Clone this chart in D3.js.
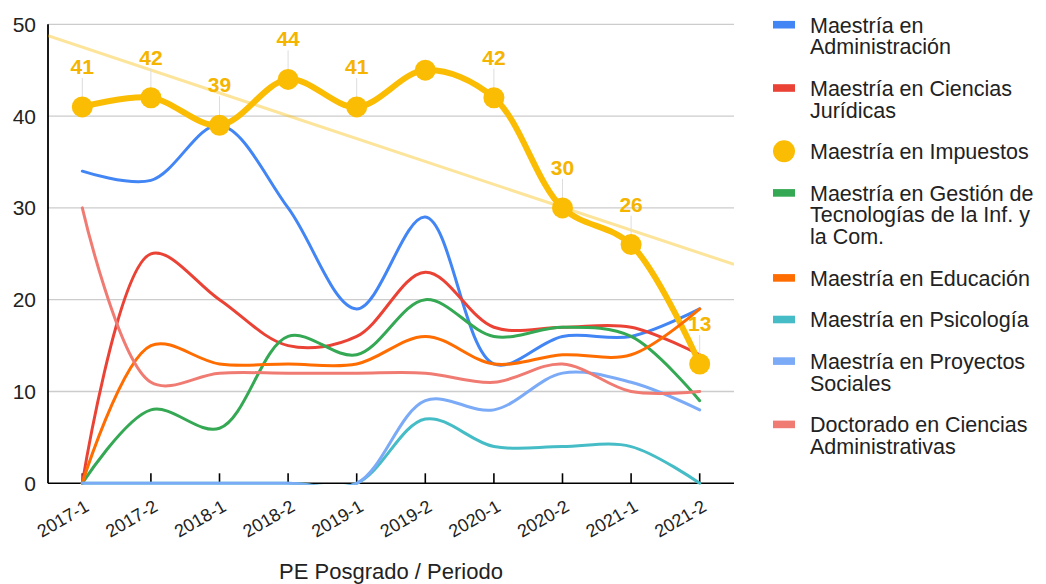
<!DOCTYPE html>
<html>
<head>
<meta charset="utf-8">
<script src="https://cdn.jsdelivr.net/npm/d3@7"></script>
<style>
  html, body { margin: 0; padding: 0; background: #fff; }
  svg { display: block; font-family: "Liberation Sans", Arial, sans-serif; }
</style>
</head>
<body>
<svg id="chart" width="1046" height="584"></svg>
<script>
// ---------------- DATA ----------------
const categories = ["2017-1","2017-2","2018-1","2018-2","2019-1","2019-2","2020-1","2020-2","2021-1","2021-2"];
const administracion    = [34, 33, 39, 30, 19, 29, 13, 16, 16, 19];
const cienciasJuridicas = [ 0, 25, 20, 15, 16, 23, 17, 17, 17, 14];
const impuestos         = [41, 42, 39, 44, 41, 45, 42, 30, 26, 13];
const gestionTIC        = [ 0,  8,  6, 16, 14, 20, 16, 17, 16,  9];
const educacion         = [ 0, 15, 13, 13, 13, 16, 13, 14, 14, 19];
const psicologia        = [ 0,  0,  0,  0,  0,  7,  4,  4,  4,  0];
const proyectosSociales = [ 0,  0,  0,  0,  0,  9,  8, 12, 11,  8];
const doctorado         = [30, 11, 12, 12, 12, 12, 11, 13, 10, 10];
const impuestosLabelShown = [true, true, true, true, true, false, true, true, true, true];
const yTicks = [0, 10, 20, 30, 40, 50];
const xAxisTitle = "PE Posgrado / Periodo";

const seriesNames = [
  "Maestría en Administración",
  "Maestría en Ciencias Jurídicas",
  "Maestría en Impuestos",
  "Maestría en Gestión de Tecnologías de la Inf. y la Com.",
  "Maestría en Educación",
  "Maestría en Psicología",
  "Maestría en Proyectos Sociales",
  "Doctorado en Ciencias Administrativas"
];
const legendLines = [
  ["Maestría en", "Administración"],
  ["Maestría en Ciencias", "Jurídicas"],
  ["Maestría en Impuestos"],
  ["Maestría en Gestión de", "Tecnologías de la Inf. y", "la Com."],
  ["Maestría en Educación"],
  ["Maestría en Psicología"],
  ["Maestría en Proyectos", "Sociales"],
  ["Doctorado en Ciencias", "Administrativas"]
];
const seriesValues = [administracion, cienciasJuridicas, impuestos, gestionTIC, educacion, psicologia, proyectosSociales, doctorado];
const colors = ["#4285f4", "#ea4335", "#fbbc04", "#34a853", "#ff6d01", "#46bdc6", "#7baaf7", "#f07b72"];
const highlighted = 2; // Impuestos

// ---------------- LAYOUT ----------------
const svg = d3.select("#chart");
const plot = { left: 48, right: 734, top: 24.3, bottom: 483.3 };
const textColor = "#222";

const x = d3.scalePoint().domain(categories).range([plot.left, plot.right]).padding(0.5);
const y = d3.scaleLinear().domain([0, 50]).range([plot.bottom, plot.top]);

// clip
svg.append("defs").append("clipPath").attr("id", "clip")
  .append("rect")
  .attr("x", plot.left).attr("y", plot.top - 2)
  .attr("width", plot.right - plot.left).attr("height", plot.bottom - plot.top + 3.5);

// gridlines
svg.append("g").selectAll("line").data(yTicks.filter(d => d > 0)).join("line")
  .attr("x1", plot.left).attr("x2", plot.right)
  .attr("y1", d => y(d)).attr("y2", d => y(d))
  .attr("stroke", "#cccccc").attr("stroke-width", 1.3);

// y tick labels
svg.append("g").selectAll("text").data(yTicks).join("text")
  .attr("x", 36).attr("y", d => y(d) + 7.5)
  .attr("text-anchor", "end")
  .attr("font-size", 21).attr("fill", textColor)
  .text(d => d);

// x axis baseline + ticks
const xAxisG = svg.append("g");
xAxisG.append("line")
  .attr("x1", plot.left).attr("x2", plot.right)
  .attr("y1", plot.bottom).attr("y2", plot.bottom)
  .attr("stroke", "#000").attr("stroke-width", 1.6);
xAxisG.selectAll("line.tick").data(categories).join("line")
  .attr("class", "tick")
  .attr("x1", d => x(d)).attr("x2", d => x(d))
  .attr("y1", plot.bottom).attr("y2", plot.bottom - 10)
  .attr("stroke", "#000").attr("stroke-width", 1.6);
// y axis line
svg.append("line")
  .attr("x1", plot.left).attr("x2", plot.left)
  .attr("y1", plot.top).attr("y2", plot.bottom)
  .attr("stroke", "#000").attr("stroke-width", 1.8);

// x tick labels
svg.append("g").selectAll("text").data(categories).join("text")
  .attr("transform", d => `translate(${x(d) + 8},${510}) rotate(-30)`)
  .attr("text-anchor", "end")
  .attr("font-size", 18).attr("fill", textColor)
  .text(d => d);

// x axis title
svg.append("text")
  .attr("x", (plot.left + plot.right) / 2).attr("y", 579)
  .attr("text-anchor", "middle")
  .attr("font-size", 22).attr("fill", textColor)
  .text(xAxisTitle);

// ---------------- TRENDLINE (linear fit of Impuestos) ----------------
const idx = impuestos.map((_, i) => i);
const mx = d3.mean(idx), my = d3.mean(impuestos);
const slope = d3.sum(idx, i => (i - mx) * (impuestos[i] - my)) / d3.sum(idx, i => (i - mx) ** 2);
const intercept = my - slope * mx;
const step = x.step();
const x0 = x(categories[0]);
const trendXs = [plot.left, plot.right];
const lines = svg.append("g").attr("clip-path", "url(#clip)");
lines.append("line")
  .attr("x1", trendXs[0]).attr("x2", trendXs[1])
  .attr("y1", y(intercept + slope * (trendXs[0] - x0) / step))
  .attr("y2", y(intercept + slope * (trendXs[1] - x0) / step))
  .attr("stroke", colors[highlighted]).attr("stroke-opacity", 0.4)
  .attr("stroke-width", 3);

// ---------------- SERIES ----------------
const lineGen = d3.line()
  .x((d, i) => x(categories[i]))
  .y(d => y(d))
  .curve(d3.curveCatmullRom.alpha(0.5));

seriesValues.forEach((vals, s) => {
  lines.append("path")
    .attr("d", lineGen(vals))
    .attr("fill", "none")
    .attr("stroke", colors[s])
    .attr("stroke-width", s === highlighted ? 6 : 3)
    .attr("stroke-linejoin", "round")
    .attr("stroke-linecap", "round");
  if (s === highlighted) {
    // leader lines
    svg.append("g").selectAll("line").data(vals.map((v, i) => ({ v, i })).filter(d => impuestosLabelShown[d.i])).join("line")
      .attr("x1", d => x(categories[d.i])).attr("x2", d => x(categories[d.i]))
      .attr("y1", d => y(d.v) - 29).attr("y2", d => y(d.v))
      .attr("stroke", "#dddddd").attr("stroke-width", 1);
    svg.append("g").selectAll("circle").data(vals).join("circle")
      .attr("cx", (d, i) => x(categories[i]))
      .attr("cy", d => y(d))
      .attr("r", 10.5)
      .attr("fill", colors[s]);
  }
});

// data labels for Impuestos
svg.append("g").selectAll("text")
  .data(impuestos.map((v, i) => ({ v, i })).filter(d => impuestosLabelShown[d.i]))
  .join("text")
  .attr("x", d => x(categories[d.i]))
  .attr("y", d => y(d.v) - 33)
  .attr("text-anchor", "middle")
  .attr("font-size", 21).attr("font-weight", "bold")
  .attr("fill", "#f4b400")
  .text(d => d.v);

// ---------------- LEGEND ----------------
const legend = svg.append("g");
const lgText = 810, lineH = 21.7, itemGap = 41.6;
let baseY = 32.5;
legendLines.forEach((ls, s) => {
  const g = legend.append("g");
  if (s === highlighted) {
    g.append("circle").attr("cx", 784).attr("cy", baseY - 7.8).attr("r", 11).attr("fill", colors[s]);
  } else {
    g.append("rect").attr("x", 773).attr("y", baseY - 7.8 - 3.8)
      .attr("width", 22).attr("height", 7.6).attr("fill", colors[s]);
  }
  ls.forEach((t, j) => {
    g.append("text").attr("x", lgText).attr("y", baseY + j * lineH)
      .attr("font-size", 21.5).attr("fill", textColor).text(t);
  });
  baseY += (ls.length - 1) * lineH + itemGap;
});
</script>
</body>
</html>
